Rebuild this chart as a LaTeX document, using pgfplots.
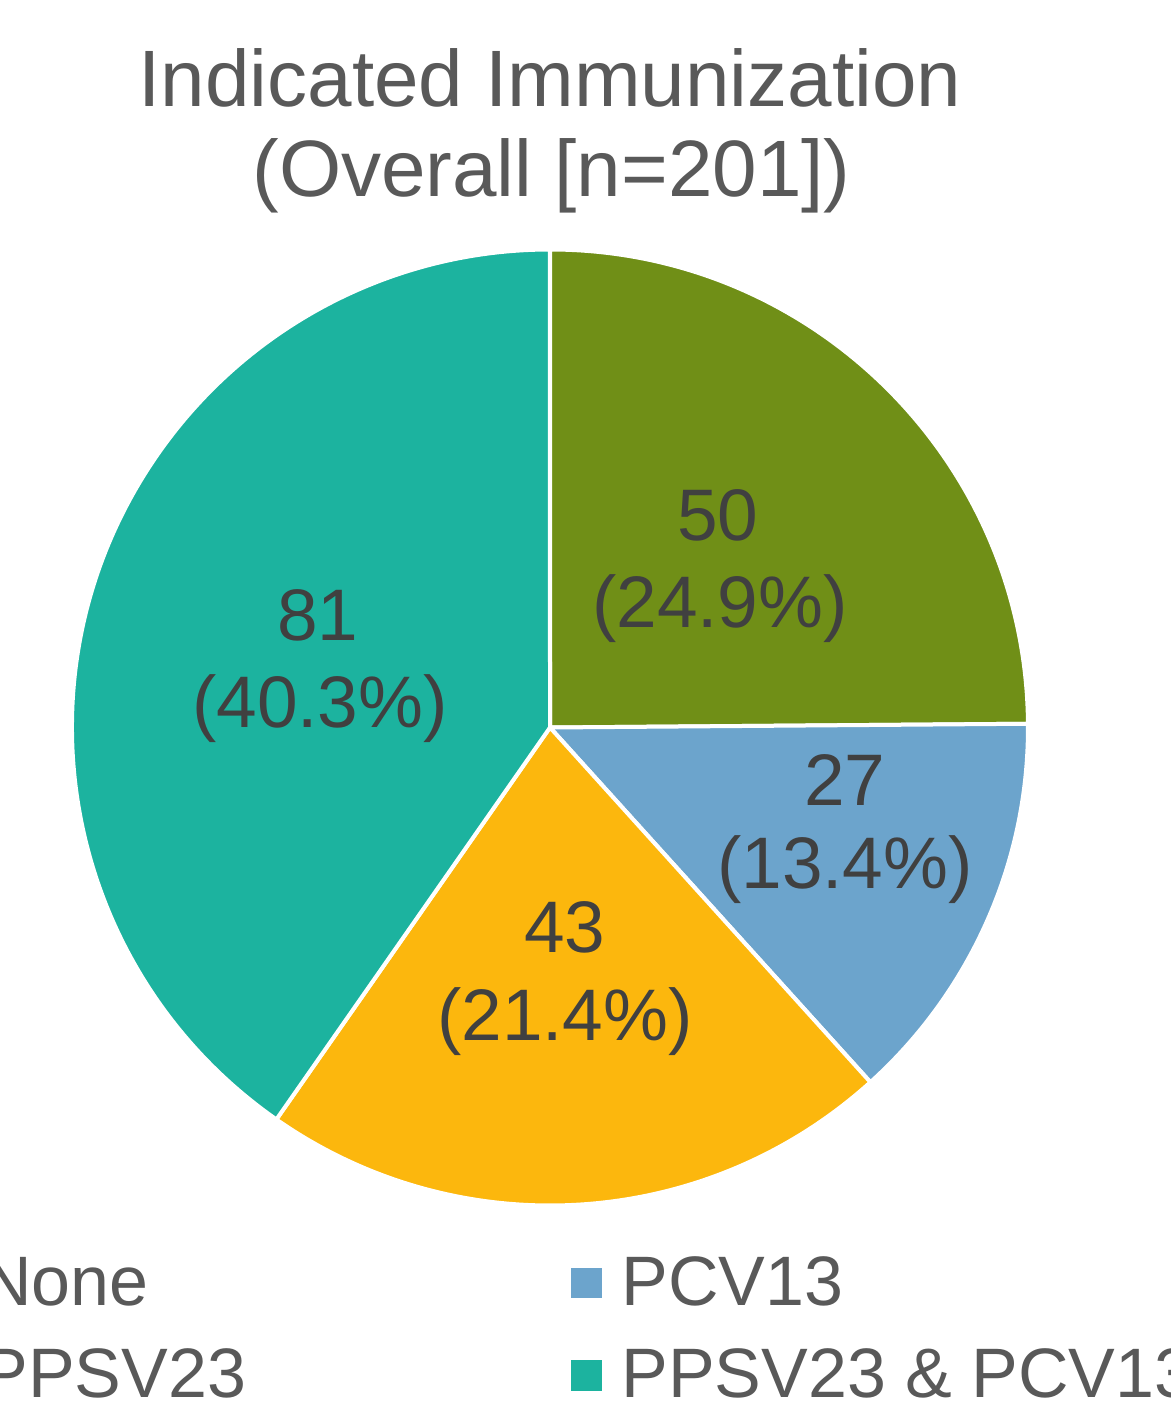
\documentclass[border=0pt]{standalone}
\usepackage{pgfplots}
\pgfplotsset{compat=1.18}
\usepackage{fontspec}
\setmainfont{Liberation Sans}
\definecolor{cNone}{HTML}{708F17}
\definecolor{cPCV}{HTML}{6CA4CC}
\definecolor{cPPSV}{HTML}{FCB70D}
\definecolor{cBoth}{HTML}{1CB39F}
\definecolor{cTtl}{HTML}{595959}
\definecolor{cLab}{HTML}{404040}
\newcommand\ttl{\fontsize{40}{48}\selectfont}
\newcommand\lab{\fontsize{36.5}{44}\selectfont}
\newcommand\leg{\fontsize{35}{42}\selectfont}
% values: None, PCV13, PPSV23, PPSV23 & PCV13
\def\vA{50}
\def\vB{27}
\def\vC{43}
\def\vD{81}
\begin{document}
\begin{tikzpicture}
\pgfmathsetmacro\tot{\vA+\vB+\vC+\vD}
\pgfmathsetmacro\aA{90}
\pgfmathsetmacro\aB{\aA-360*(\vA/\tot)}
\pgfmathsetmacro\aC{\aB-360*(\vB/\tot)}
\pgfmathsetmacro\aD{\aC-360*(\vC/\tot)}
\pgfmathsetmacro\aE{\aD-360*(\vD/\tot)}
\path[use as bounding box] (0,0) rectangle (585.5pt,709pt);
\clip (0,0) rectangle (585.5pt,709pt);
\begin{axis}[at={(0,0)}, anchor=south west, scale only axis,
  width=585.5pt, height=709pt, xmin=0, xmax=1171, ymin=0, ymax=1418,
  y dir=reverse, hide axis, clip=false]
\addplot[draw=none] coordinates {(550,727.5)};
% wedges
\fill[cNone, draw=white, line width=2pt] (axis cs:550,727.5) -- ++(\aA:239pt) arc[start angle=\aA, end angle=\aB, radius=239pt] -- cycle;
\fill[cPCV, draw=white, line width=2pt] (axis cs:550,727.5) -- ++(\aB:239pt) arc[start angle=\aB, end angle=\aC, radius=239pt] -- cycle;
\fill[cPPSV, draw=white, line width=2pt] (axis cs:550,727.5) -- ++(\aC:239pt) arc[start angle=\aC, end angle=\aD, radius=239pt] -- cycle;
\fill[cBoth, draw=white, line width=2pt] (axis cs:550,727.5) -- ++(\aD:239pt) arc[start angle=\aD, end angle=\aE, radius=239pt] -- cycle;
% title
\node[anchor=base, inner sep=0, font=\ttl, text=cTtl] at (axis cs:550,106) {Indicated Immunization};
\node[anchor=base, inner sep=0, font=\ttl, text=cTtl] at (axis cs:551.5,196) {(Overall [n=201])};
% data labels
\node[anchor=base, inner sep=0, font=\lab, text=cLab] at (axis cs:718,540) {50};
\node[anchor=base, inner sep=0, font=\lab, text=cLab] at (axis cs:720,627) {(24.9\%)};
\node[anchor=base, inner sep=0, font=\lab, text=cLab] at (axis cs:845,805) {27};
\node[anchor=base, inner sep=0, font=\lab, text=cLab] at (axis cs:845,888) {(13.4\%)};
\node[anchor=base, inner sep=0, font=\lab, text=cLab] at (axis cs:565,952) {43};
\node[anchor=base, inner sep=0, font=\lab, text=cLab] at (axis cs:565,1040) {(21.4\%)};
\node[anchor=base, inner sep=0, font=\lab, text=cLab] at (axis cs:318,640) {81};
\node[anchor=base, inner sep=0, font=\lab, text=cLab] at (axis cs:320,727) {(40.3\%)};
% legend
\fill[cNone] (axis cs:-69,1268) rectangle (axis cs:-38,1298);
\fill[cPCV] (axis cs:571,1268) rectangle (axis cs:602,1298);
\fill[cPPSV] (axis cs:-69,1360) rectangle (axis cs:-38,1391);
\fill[cBoth] (axis cs:571,1360) rectangle (axis cs:602,1391);
\node[anchor=base west, inner sep=0, font=\leg, text=cTtl] at (axis cs:-19,1305) {None};
\node[anchor=base west, inner sep=0, font=\leg, text=cTtl] at (axis cs:621,1305) {PCV13};
\node[anchor=base west, inner sep=0, font=\leg, text=cTtl] at (axis cs:-19,1397) {PPSV23};
\node[anchor=base west, inner sep=0, font=\leg, text=cTtl] at (axis cs:621,1397) {PPSV23 \& PCV13};
\end{axis}
\end{tikzpicture}
\end{document}
